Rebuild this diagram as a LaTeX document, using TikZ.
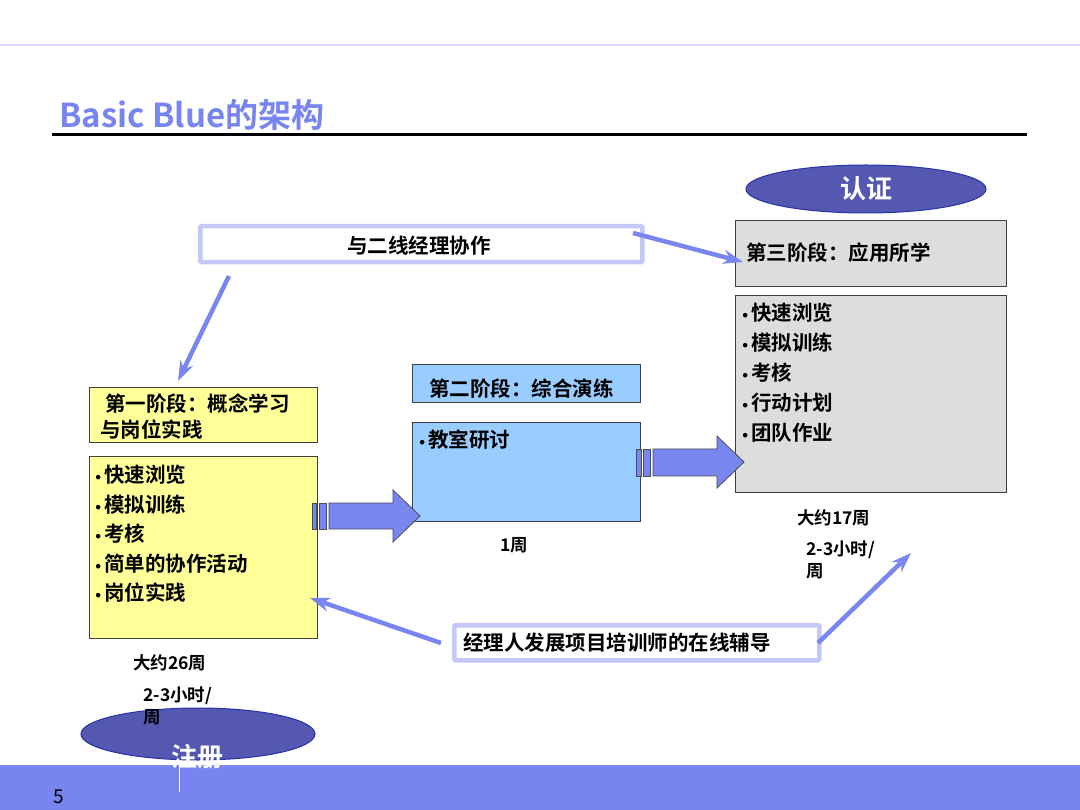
\documentclass[tikz,border=0pt]{standalone}
\usepackage{fontspec}
\setmainfont{Noto Sans CJK SC}[BoldFont={Noto Sans CJK SC Bold}]
\newfontfamily\dejavu{DejaVu Sans}
\usetikzlibrary{arrows.meta,shapes.geometric}
\definecolor{peri}{RGB}{120,132,240}
\definecolor{lav}{RGB}{196,200,248}
\definecolor{topline}{RGB}{214,218,250}
\definecolor{ellfill}{RGB}{84,88,176}
\definecolor{ellline}{RGB}{40,50,170}
\definecolor{yel}{RGB}{255,255,153}
\definecolor{lblue}{RGB}{153,204,255}
\definecolor{lgray}{RGB}{221,221,221}
\definecolor{arrfill}{RGB}{122,134,240}
\tikzset{
  box/.style={draw=black!75, line width=0.9pt, anchor=north west, inner sep=0pt},
  framebox/.style={draw=lav, line width=4.5pt, fill=white, anchor=north west, inner sep=0pt, rounded corners=1pt},
  txt/.style={inner sep=0pt, font=\fontsize{20.5}{27}\selectfont\bfseries, anchor=west},
  small/.style={inner sep=0pt, font=\fontsize{17.5}{22}\selectfont\bfseries, anchor=west},
  ell/.style={ellipse, draw=ellline, line width=1pt, fill=ellfill, inner sep=0pt},
  thinarrow/.style={draw=arrfill, line width=4.5pt, -{Stealth[length=20pt,width=14pt]}},
  blockarrow/.style={draw=black!70, line width=0.8pt, fill=arrfill}
}
\newcommand{\bl}{\makebox[11pt][l]{\hspace{1pt}{\dejavu\fontsize{13}{13}\selectfont •}}}
\begin{document}
\begin{tikzpicture}[x=1pt,y=-1pt]
\useasboundingbox (0,0) rectangle (1080,810);
% background elements
\draw[topline, line width=1.5pt] (0,45) -- (1080,45);
\fill[peri] (0,765) rectangle (1080,810);
\node[inner sep=0pt, anchor=west, font=\fontsize{19}{22}\selectfont] (pnum) at (53,797) {5};
% title
\node[inner sep=0pt, anchor=base west, text=peri, font=\fontsize{33}{36}\selectfont\bfseries] (title) at (59,128) {Basic Blue的架构};
\draw[black, line width=3pt] (52,135) -- (1027,135);

% ellipses
\node[ell, minimum width=240pt, minimum height=48pt] (cert) at (866,189) {};
\node[inner sep=0pt, text=white, font=\fontsize{26}{30}\selectfont\bfseries] (certt) at (866,189) {认证};
\node[ell, minimum width=234pt, minimum height=52pt] (reg) at (198,734) {};
\draw[white, line width=1pt] (179,762) -- (179,792);
\node[inner sep=0pt, text=white, font=\fontsize{26}{30}\selectfont\bfseries] (regt) at (197,757) {注册};

% top frame box
\node[framebox, minimum width=442pt, minimum height=36pt] (coop) at (198,224) {};
\node[txt, anchor=center] (coopt) at (419,246) {与二线经理协作};

% bottom frame box
\node[framebox, minimum width=365pt, minimum height=35pt] (tutor) at (452,623) {};
\node[txt] (tutort) at (463,643) {经理人发展项目培训师的在线辅导};

% stage 3
\node[box, fill=lgray, minimum width=271pt, minimum height=66pt] (s3h) at (735,220) {};
\node[txt] (s3ht) at (746,253) {第三阶段：应用所学};
\node[box, fill=lgray, minimum width=271pt, minimum height=197pt] (s3c) at (735,295) {};
\foreach \t [count=\i] in {快速浏览,模拟训练,考核,行动计划,团队作业}
  \node[txt] (s3l\i) at (740,{313+30*(\i-1)}) {\bl\t};
\node[small] (w17) at (797,518) {大约17周};
\node[small, align=left, anchor=north west] (h17) at (806,541) {2-3小时/\\周};

% stage 2
\node[box, fill=lblue, minimum width=228pt, minimum height=38pt] (s2h) at (412,364) {};
\node[txt] (s2ht) at (429,389) {第二阶段：综合演练};
\node[box, fill=lblue, minimum width=228pt, minimum height=99pt] (s2c) at (412,422) {};
\node[txt] (s2l1) at (417,440) {\bl 教室研讨};
\node[small, anchor=center] (w1) at (514,545) {1周};

% stage 1
\node[box, fill=yel, minimum width=228pt, minimum height=55pt] (s1h) at (89,387) {};
\node[txt] (s1ht1) at (105,404) {第一阶段：概念学习};
\node[txt] (s1ht2) at (100,430) {与岗位实践};
\node[box, fill=yel, minimum width=228pt, minimum height=182pt] (s1c) at (89,456) {};
\foreach \t [count=\i] in {快速浏览,模拟训练,考核,简单的协作活动,岗位实践}
  \node[txt] (s1l\i) at (93,{475+29.5*(\i-1)}) {\bl\t};
\node[small] (w26) at (133,663) {大约26周};
\node[small, align=left, anchor=north west] (h26) at (143,687) {2-3小时/\\周};

% block arrows
\draw[blockarrow] (312,503) rectangle (316,529);
\draw[blockarrow] (319,503) rectangle (326,529);
\draw[blockarrow] (329,503) -- (393,503) -- (393,490) -- (420,516) -- (393,542) -- (393,529) -- (329,529) -- cycle;
\draw[blockarrow] (636,449) rectangle (641,476);
\draw[blockarrow] (643,449) rectangle (650,476);
\draw[blockarrow] (653,449) -- (717,449) -- (717,436) -- (744,462) -- (717,488) -- (717,476) -- (653,476) -- cycle;

% thin arrows
\coordinate (a1s) at (229,276);
\coordinate (a1e) at (178,381);
\coordinate (a2s) at (633,233);
\coordinate (a2e) at (743,262);
\coordinate (a3s) at (441,643);
\coordinate (a3e) at (310,598);
\coordinate (a4s) at (818,643);
\coordinate (a4e) at (911,553);
\draw[thinarrow] (a1s) -- (a1e);
\draw[thinarrow] (a2s) -- (a2e);
\draw[thinarrow] (a3s) -- (a3e);
\draw[thinarrow] (a4s) -- (a4e);
\end{tikzpicture}
\end{document}
